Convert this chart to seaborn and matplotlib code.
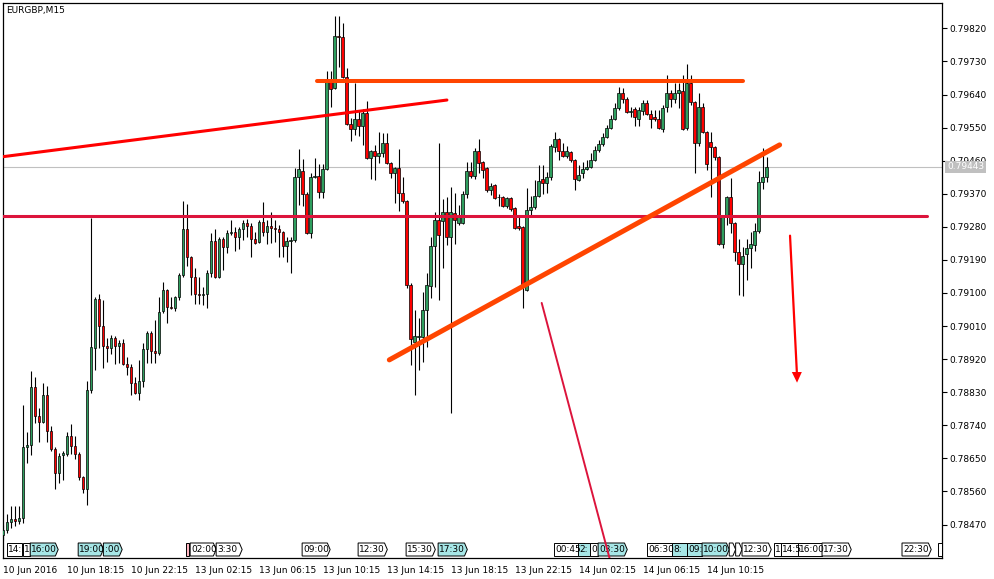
import numpy as np
import matplotlib
matplotlib.use("Agg")
import matplotlib.pyplot as plt
import matplotlib.transforms as mtransforms
import seaborn as sns

# ---------------- data (EURGBP, M15) ----------------
open_ = [0.78442,0.78455,0.78477,0.78485,0.78480,0.78488,0.78681,0.78687,0.78844,0.78765,
 0.78749,0.78823,0.78725,0.78676,0.78610,0.78659,0.78662,0.78711,0.78684,0.78662,
 0.78600,0.78567,0.78836,0.78950,0.79084,0.79010,0.78956,0.78950,0.78978,0.78956,
 0.78964,0.78907,0.78899,0.78855,0.78828,0.78861,0.78948,0.78991,0.78942,0.78937,
 0.79051,0.79108,0.79062,0.79059,0.79089,0.79149,0.79274,0.79198,0.79144,0.79097,
 0.79095,0.79097,0.79154,0.79241,0.79144,0.79247,0.79225,0.79263,0.79266,0.79252,
 0.79274,0.79290,0.79282,0.79247,0.79239,0.79293,0.79266,0.79282,0.79277,0.79274,
 0.79266,0.79228,0.79241,0.79244,0.79416,0.79432,0.79369,0.79263,0.79416,0.79418,
 0.79375,0.79437,0.79677,0.79658,0.79799,0.79796,0.79688,0.79560,0.79546,0.79573,
 0.79554,0.79590,0.79467,0.79486,0.79473,0.79481,0.79508,0.79454,0.79426,0.79440,
 0.79372,0.79350,0.79122,0.78967,0.78980,0.78980,0.79054,0.79119,0.79228,0.79299,
 0.79296,0.79320,0.79252,0.79318,0.79290,0.79290,0.79369,0.79432,0.79418,0.79486,
 0.79456,0.79440,0.79380,0.79394,0.79361,0.79361,0.79337,0.79358,0.79331,0.79282,
 0.79280,0.79108,0.79326,0.79334,0.79364,0.79410,0.79399,0.79416,0.79497,0.79519,
 0.79486,0.79473,0.79484,0.79462,0.79407,0.79426,0.79437,0.79443,0.79462,0.79489,
 0.79505,0.79524,0.79549,0.79573,0.79603,0.79644,0.79628,0.79592,0.79601,0.79573,
 0.79595,0.79617,0.79587,0.79579,0.79573,0.79546,0.79606,0.79644,0.79628,0.79644,
 0.79649,0.79549,0.79671,0.79620,0.79508,0.79606,0.79538,0.79511,0.79497,0.79470,
 0.79233,0.79307,0.79361,0.79290,0.79212,0.79179,0.79206,0.79222,0.79231,0.79269,
 0.79402,0.79416]
high = [0.78469,0.78499,0.78521,0.78521,0.78521,0.78795,0.78722,0.78888,0.78872,0.78787,
 0.78855,0.78847,0.78738,0.78681,0.78665,0.78670,0.78722,0.78744,0.78711,0.78668,
 0.78602,0.78861,0.79304,0.79089,0.79097,0.79081,0.78978,0.78986,0.78983,0.78972,
 0.78975,0.78926,0.78907,0.78872,0.78918,0.78964,0.78997,0.78997,0.79027,0.79089,
 0.79130,0.79111,0.79089,0.79092,0.79154,0.79350,0.79342,0.79201,0.79168,0.79144,
 0.79116,0.79163,0.79263,0.79274,0.79252,0.79252,0.79271,0.79299,0.79280,0.79280,
 0.79299,0.79301,0.79290,0.79266,0.79299,0.79348,0.79299,0.79320,0.79299,0.79285,
 0.79269,0.79252,0.79252,0.79440,0.79492,0.79465,0.79375,0.79426,0.79467,0.79451,
 0.79451,0.79704,0.79704,0.79853,0.79853,0.79834,0.79712,0.79576,0.79671,0.79598,
 0.79601,0.79622,0.79489,0.79503,0.79538,0.79535,0.79535,0.79456,0.79443,0.79492,
 0.79416,0.79353,0.79127,0.79054,0.79032,0.79103,0.79154,0.79252,0.79320,0.79508,
 0.79356,0.79361,0.79388,0.79372,0.79339,0.79377,0.79456,0.79456,0.79494,0.79519,
 0.79459,0.79443,0.79399,0.79397,0.79369,0.79364,0.79361,0.79361,0.79334,0.79312,
 0.79282,0.79386,0.79364,0.79407,0.79448,0.79448,0.79429,0.79505,0.79538,0.79522,
 0.79508,0.79500,0.79486,0.79465,0.79448,0.79456,0.79462,0.79481,0.79500,0.79516,
 0.79535,0.79557,0.79584,0.79617,0.79660,0.79658,0.79633,0.79606,0.79606,0.79606,
 0.79625,0.79625,0.79598,0.79598,0.79598,0.79611,0.79693,0.79652,0.79671,0.79671,
 0.79693,0.79723,0.79693,0.79622,0.79644,0.79617,0.79541,0.79538,0.79500,0.79473,
 0.79307,0.79364,0.79413,0.79293,0.79247,0.79225,0.79247,0.79266,0.79290,0.79432,
 0.79494,0.79470]
low = [0.78428,0.78447,0.78461,0.78466,0.78472,0.78474,0.78638,0.78659,0.78746,0.78695,
 0.78746,0.78695,0.78670,0.78567,0.78583,0.78591,0.78657,0.78662,0.78649,0.78591,
 0.78556,0.78523,0.78828,0.78891,0.78950,0.78896,0.78912,0.78934,0.78907,0.78910,
 0.78904,0.78877,0.78823,0.78825,0.78809,0.78844,0.78910,0.78910,0.78910,0.78931,
 0.79046,0.79018,0.79057,0.79051,0.79081,0.79144,0.79173,0.79095,0.79070,0.79070,
 0.79067,0.79059,0.79144,0.79141,0.79141,0.79163,0.79209,0.79258,0.79214,0.79220,
 0.79244,0.79252,0.79198,0.79233,0.79236,0.79255,0.79233,0.79236,0.79239,0.79198,
 0.79198,0.79184,0.79154,0.79239,0.79339,0.79337,0.79261,0.79250,0.79413,0.79358,
 0.79358,0.79435,0.79606,0.79655,0.79715,0.79685,0.79557,0.79513,0.79530,0.79527,
 0.79503,0.79465,0.79410,0.79407,0.79454,0.79470,0.79451,0.79413,0.79345,0.79323,
 0.79345,0.79114,0.78904,0.78823,0.78891,0.78912,0.78953,0.79086,0.79116,0.79081,
 0.79168,0.79231,0.78774,0.79233,0.79285,0.79288,0.79358,0.79413,0.79410,0.79426,
 0.79413,0.79375,0.79367,0.79356,0.79337,0.79334,0.79331,0.79323,0.79274,0.79271,
 0.79059,0.79105,0.79312,0.79329,0.79361,0.79369,0.79372,0.79407,0.79484,0.79462,
 0.79470,0.79467,0.79456,0.79380,0.79405,0.79413,0.79435,0.79440,0.79459,0.79484,
 0.79500,0.79522,0.79546,0.79571,0.79598,0.79617,0.79590,0.79579,0.79554,0.79554,
 0.79584,0.79584,0.79549,0.79568,0.79546,0.79538,0.79592,0.79606,0.79617,0.79603,
 0.79543,0.79543,0.79611,0.79426,0.79500,0.79535,0.79435,0.79361,0.79462,0.79231,
 0.79222,0.79285,0.79263,0.79187,0.79095,0.79092,0.79135,0.79168,0.79214,0.79263,
 0.79383,0.79402]
close = [0.78455,0.78477,0.78485,0.78480,0.78488,0.78681,0.78687,0.78844,0.78765,0.78749,
 0.78823,0.78725,0.78676,0.78610,0.78657,0.78665,0.78711,0.78684,0.78662,0.78600,
 0.78567,0.78836,0.78953,0.79084,0.79010,0.78956,0.78950,0.78978,0.78956,0.78964,
 0.78907,0.78899,0.78855,0.78828,0.78861,0.78948,0.78991,0.78942,0.78937,0.79048,
 0.79108,0.79062,0.79059,0.79089,0.79149,0.79274,0.79198,0.79144,0.79097,0.79095,
 0.79097,0.79154,0.79241,0.79144,0.79247,0.79225,0.79263,0.79266,0.79252,0.79274,
 0.79290,0.79282,0.79247,0.79236,0.79293,0.79266,0.79282,0.79277,0.79274,0.79266,
 0.79228,0.79241,0.79244,0.79416,0.79437,0.79369,0.79263,0.79416,0.79418,0.79375,
 0.79437,0.79677,0.79655,0.79799,0.79796,0.79688,0.79560,0.79546,0.79573,0.79554,
 0.79590,0.79467,0.79486,0.79473,0.79481,0.79508,0.79454,0.79426,0.79440,0.79372,
 0.79350,0.79122,0.78975,0.78983,0.78983,0.79054,0.79122,0.79228,0.79299,0.79258,
 0.79320,0.79252,0.79320,0.79299,0.79309,0.79369,0.79432,0.79418,0.79486,0.79454,
 0.79435,0.79380,0.79391,0.79358,0.79360,0.79337,0.79358,0.79329,0.79277,0.79277,
 0.79119,0.79326,0.79334,0.79364,0.79405,0.79399,0.79416,0.79500,0.79519,0.79486,
 0.79473,0.79486,0.79462,0.79410,0.79421,0.79437,0.79443,0.79462,0.79489,0.79505,
 0.79524,0.79549,0.79573,0.79603,0.79644,0.79628,0.79592,0.79595,0.79579,0.79598,
 0.79617,0.79587,0.79573,0.79573,0.79549,0.79603,0.79644,0.79628,0.79644,0.79652,
 0.79546,0.79671,0.79620,0.79508,0.79606,0.79538,0.79451,0.79497,0.79470,0.79233,
 0.79307,0.79361,0.79290,0.79212,0.79179,0.79201,0.79222,0.79233,0.79269,0.79402,
 0.79416,0.79443]

time_tick_bars = [0, 16, 32, 48, 64, 80, 96, 112, 128, 144, 160, 176]
time_tick_labels = ["10 Jun 2016", "10 Jun 18:15", "10 Jun 22:15", "13 Jun 02:15",
                    "13 Jun 06:15", "13 Jun 10:15", "13 Jun 14:15", "13 Jun 18:15",
                    "13 Jun 22:15", "14 Jun 02:15", "14 Jun 06:15", "14 Jun 10:15"]
price_ticks = [0.78470, 0.78560, 0.78650, 0.78740, 0.78830, 0.78920, 0.79010, 0.79100,
               0.79190, 0.79280, 0.79370, 0.79460, 0.79550, 0.79640, 0.79730, 0.79820]
current_price = 0.79443
symbol_label = "EURGBP,M15"

# drawn objects (bar index, price)
red_trend_x, red_trend_y = [0.075, 111.0], [0.79471, 0.79625]
orange_top_x, orange_top_y = [78.6, 185.1], [0.79677, 0.79677]
orange_trend_x, orange_trend_y = [96.6, 194.2], [0.78918, 0.79503]
support_x, support_y = [0.075, 231.1], [0.79310, 0.79310]
thin_line_x, thin_line_y = [134.7, 151.8], [0.79073, 0.78373]
arrow_x, arrow_y = [196.8, 198.5], [0.79256, 0.78885]
arrow_tip = 0.78856

# calendar event markers: start bar, end bar, text, fill, has pointed end
event_start = [1.0, 4.9, 6.8, 18.8, 25.1, 45.8, 46.8, 53.3, 74.8, 88.8, 100.8, 108.8,
               137.8, 143.8, 146.8, 148.8, 161.1, 167.3, 171.1, 174.8, 181.6, 183.2,
               184.8, 192.8, 194.6, 198.8, 204.8, 224.8, 233.8]
event_end = [4.75, 6.65, 13.8, 25.1, 29.8, 46.6, 53.3, 59.8, 81.8, 96.1, 108.1, 116.1,
             143.8, 146.8, 148.8, 156.1, 167.3, 171.1, 174.8, 181.6, 183.2, 184.8,
             192.1, 194.5, 198.8, 204.8, 212.1, 232.1, 235.5]
event_text = ["14:", "1", "16:00", "19:00", ":00", "", "02:00", "3:30", "09:00", "12:30",
              "15:30", "17:30", "00:45", "2:", "0", "03:30", "06:30", "8:", "09:", "10:00",
              "", "", "12:30", "1", "14:5", "16:00", "17:30", "22:30", ""]
event_kind = ["w", "w", "c", "c", "c", "p", "w", "w", "w", "w", "w", "c",
              "w", "c", "w", "c", "w", "c", "c", "c", "w", "w",
              "w", "w", "w", "w", "w", "w", "w"]
event_tip = [0, 0, 1, 1, 1, 0, 1, 1, 1, 1, 1, 1, 0, 0, 0, 1, 0, 0, 0, 1, 1, 1,
             1, 0, 0, 0, 1, 1, 0]

# ---------------- style ----------------
sns.set_style("white")
plt.rcParams['font.family'] = ['DejaVu Sans']

W, H = 995, 579
fig = plt.figure(figsize=(W / 100, H / 100), dpi=100)
fig.patch.set_facecolor("white")
ax = fig.add_axes([3 / W, (H - 558) / H, 939 / W, 555 / H])
ax.set_facecolor("white")

o = np.array(open_); h = np.array(high); l = np.array(low); c = np.array(close)
x = np.arange(len(o))
up = c > o
bull, bear = "#2E9E5E", "#FF0000"

ax.axhline(current_price, color="#C0C0C0", lw=0.8, zorder=1)

ax.vlines(x, l, h, color="black", lw=0.8, zorder=2)
bb = np.minimum(o, c)
bh = np.maximum(np.abs(c - o), 0.000004)
ax.bar(x[up], bh[up], bottom=bb[up], width=0.72, color=bull, edgecolor="black",
       linewidth=0.5, zorder=3)
ax.bar(x[~up], bh[~up], bottom=bb[~up], width=0.72, color=bear, edgecolor="black",
       linewidth=0.5, zorder=3)

# drawings
sns.lineplot(x=support_x, y=support_y, ax=ax, color="#DC143C", lw=2.2, zorder=5)
sns.lineplot(x=red_trend_x, y=red_trend_y, ax=ax, color="#FF0000", lw=2.2, zorder=5)
sns.lineplot(x=orange_top_x, y=orange_top_y, ax=ax, color="#FF4500", lw=2.9, zorder=5)
sns.lineplot(x=orange_trend_x, y=orange_trend_y, ax=ax, color="#FF4500", lw=3.6, zorder=5)
sns.lineplot(x=thin_line_x, y=thin_line_y, ax=ax, color="#DC143C", lw=1.4, zorder=7)
sns.lineplot(x=arrow_x, y=arrow_y, ax=ax, color="#FF0000", lw=1.6, zorder=5)
ax.fill([arrow_x[1] - 1.25, arrow_x[1] + 1.25, arrow_x[1] + 0.05],
        [arrow_y[1], arrow_y[1], arrow_tip], color="#FF0000", lw=0, zorder=5)

# event markers along the bottom
btrans = mtransforms.blended_transform_factory(ax.transData, ax.transAxes)
yb, yt = 2.0 / 555, 15.0 / 555
ym = (yb + yt) / 2
fills = {"w": "white", "c": "#A6E6E6", "p": "#FFB6C1"}
for s, e, t, k, tip in zip(event_start, event_end, event_text, event_kind, event_tip):
    if tip:
        pts = [(s, yb), (e - 0.7, yb), (e, ym), (e - 0.7, yt), (s, yt)]
    else:
        pts = [(s, yb), (e, yb), (e, yt), (s, yt)]
    poly = plt.Polygon(pts, closed=True, facecolor=fills[k], edgecolor="black",
                       lw=0.7, transform=btrans, zorder=6)
    ax.add_patch(poly)
    if t:
        txt = ax.text(s + 0.3, ym, t, transform=btrans, fontsize=6.5, va="center",
                      ha="left", color="black", zorder=6.5)
        txt.set_clip_path(poly)

# axes formatting
ax.set_xlim(0.075, 234.8)
ax.set_ylim(0.78379, 0.79889)
ax.set_xticks(time_tick_bars)
ax.set_xticklabels(time_tick_labels, ha="left", fontsize=6.5)
ax.yaxis.tick_right()
ax.set_yticks(price_ticks)
ax.set_yticklabels([f"{p:.5f}" for p in price_ticks], fontsize=6.5)
ax.tick_params(axis="x", direction="out", length=3.5, width=0.8, pad=2, colors="black")
ax.tick_params(axis="y", direction="out", length=3.5, width=0.8, pad=2, colors="black")
ax.set_xlabel(""); ax.set_ylabel("")
for sp in ax.spines.values():
    sp.set_visible(True)
    sp.set_color("black")
    sp.set_linewidth(0.9)
if ax.get_legend() is not None:
    ax.get_legend().remove()

ax.text(0.003, 0.994, symbol_label, transform=ax.transAxes, fontsize=6.5,
        va="top", ha="left", color="black", zorder=8)

ptrans = mtransforms.blended_transform_factory(ax.transAxes, ax.transData)
ax.text(1.0 + 5 / 939, current_price, f"{current_price:.5f}", transform=ptrans,
        fontsize=6.5, va="center", ha="left", color="white", clip_on=False, zorder=10,
        bbox=dict(boxstyle="square,pad=0.2", fc="#C0C0C0", ec="none"))

fig.savefig("out.png", dpi=100)
